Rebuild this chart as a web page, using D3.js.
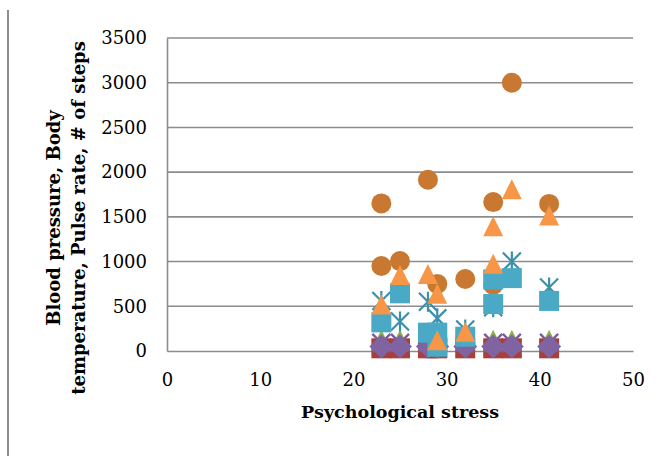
<!DOCTYPE html>
<html>
<head>
<meta charset="utf-8">
<script src="https://cdn.jsdelivr.net/npm/d3@7"></script>
<style>
  html, body { margin: 0; padding: 0; background: #fff; }
  svg { display: block; }
</style>
</head>
<body>
<svg id="chart" width="669" height="456"></svg>
<script>
// ---------- data ----------
const xTicks = [0, 10, 20, 30, 40, 50];
const yTicks = [0, 500, 1000, 1500, 2000, 2500, 3000, 3500];

// bottom cluster (x shared)
const stressBottom = [23, 25, 28, 29, 32, 35, 37, 41];
const redSquareVals   = [30, 30, 30, 30, 30, 30, 30, 30];
const greenTriVals    = [125, 125, 125, 125, 125, 125, 125, 125];
const purpleXVals     = [90, 90, 90, 90, 90, 90, 90, 90];
const diamondVals     = [50, 50, 50, 50, 50, 50, 50, 50];

const stressAsterisk  = [23, 25, 28, 29, 32, 35, 37, 41];
const asteriskVals    = [560, 330, 550, 365, 240, 490, 1000, 710];

const stressCircle    = [23, 23, 25, 28, 29, 32, 35, 35, 37, 41];
const circleVals      = [1650, 950, 1005, 1915, 750, 805, 1665, 740, 3000, 1645];

const stressSquare    = [23, 25, 28, 29, 29, 32, 35, 35, 37, 41];
const squareVals      = [320, 645, 205, 205, 48, 160, 800, 525, 815, 560];

const stressTriangle  = [23, 25, 28, 29, 29, 32, 35, 35, 37, 41];
const triangleVals    = [520, 850, 860, 640, 120, 215, 1395, 975, 1810, 1515];

const xTitle = "Psychological stress";
const yTitleLines = ["Blood pressure, Body", "temperature, Pulse rate, # of steps"];

// ---------- layout ----------
const svg = d3.select("#chart");
const x = d3.scaleLinear().domain([0, 50]).range([167, 633]);
const y = d3.scaleLinear().domain([0, 3500]).range([351, 38]);
const serif = "'DejaVu Serif', serif";

// outer left frame line
svg.append("line").attr("x1", 8).attr("x2", 8).attr("y1", 10).attr("y2", 456)
  .attr("stroke", "#8c8c8c").attr("stroke-width", 2);

// gridlines
svg.append("g").selectAll("line").data(yTicks.filter(d => d > 0)).join("line")
  .attr("x1", x(0)).attr("x2", x(50))
  .attr("y1", d => y(d)).attr("y2", d => y(d))
  .attr("stroke", "#8c8c8c").attr("stroke-width", 1.6);

// axes
const yAxis = d3.axisLeft(y).tickValues(yTicks).tickSize(0).tickPadding(20).tickFormat(d3.format("d"));
const gy = svg.append("g").attr("transform", `translate(${x(0)},0)`).call(yAxis);
gy.select(".domain").attr("stroke", "#8c8c8c").attr("stroke-width", 1.6);
gy.selectAll("text").attr("font-family", serif).attr("font-size", 18).attr("fill", "#000");

const xAxis = d3.axisBottom(x).tickValues(xTicks).tickSize(0).tickPadding(22);
const gx = svg.append("g").attr("transform", `translate(0,${y(0)})`).call(xAxis);
gx.select(".domain").attr("stroke", "#8c8c8c").attr("stroke-width", 1.6);
gx.selectAll("text").attr("font-family", serif).attr("font-size", 18).attr("fill", "#000");

// titles
svg.append("text").attr("x", 400).attr("y", 418).attr("text-anchor", "middle")
  .attr("font-family", serif).attr("font-weight", "bold").attr("font-size", 17.5)
  .text(xTitle);
const yt = svg.append("text").attr("transform", "translate(0,218) rotate(-90)")
  .attr("text-anchor", "middle").attr("font-family", serif).attr("font-weight", "bold").attr("font-size", 18);
yt.selectAll("tspan").data(yTitleLines).join("tspan")
  .attr("x", 0).attr("y", (d, i) => 60 + i * 25).text(d => d);

// ---------- markers ----------
const plot = svg.append("g");
function pts(xs, vs) { return xs.map((s, i) => ({ s, v: vs[i] })); }

// red squares
plot.append("g").selectAll("rect").data(pts(stressBottom, redSquareVals)).join("rect")
  .attr("x", d => x(d.s) - 10).attr("y", d => y(d.v) - 10).attr("width", 20).attr("height", 20)
  .attr("fill", "#a5403d");
// green triangles
plot.append("g").selectAll("path").data(pts(stressBottom, greenTriVals)).join("path")
  .attr("d", d => `M${x(d.s)},${y(d.v) - 10}L${x(d.s) + 10},${y(d.v) + 10}L${x(d.s) - 10},${y(d.v) + 10}Z`)
  .attr("fill", "#8fad4e");
// purple x
plot.append("g").selectAll("path").data(pts(stressBottom, purpleXVals)).join("path")
  .attr("d", d => { const cx = x(d.s), cy = y(d.v), h = 9; return `M${cx-h},${cy-h}L${cx+h},${cy+h}M${cx-h},${cy+h}L${cx+h},${cy-h}`; })
  .attr("stroke", "#7a5c9e").attr("stroke-width", 2.4).attr("fill", "none");
// purple diamonds
plot.append("g").selectAll("path").data(pts(stressBottom, diamondVals)).join("path")
  .attr("d", d => { const cx = x(d.s), cy = y(d.v), h = 12; return `M${cx},${cy-h}L${cx+h},${cy}L${cx},${cy+h}L${cx-h},${cy}Z`; })
  .attr("fill", "#8064a2");
// teal asterisks
plot.append("g").selectAll("path").data(pts(stressAsterisk, asteriskVals)).join("path")
  .attr("d", d => { const cx = x(d.s), cy = y(d.v), h = 9; return `M${cx-h},${cy-h}L${cx+h},${cy+h}M${cx-h},${cy+h}L${cx+h},${cy-h}M${cx},${cy-h-1}L${cx},${cy+h+1}`; })
  .attr("stroke", "#3a91ab").attr("stroke-width", 2.2).attr("fill", "none");
// orange circles
plot.append("g").selectAll("circle").data(pts(stressCircle, circleVals)).join("circle")
  .attr("cx", d => x(d.s)).attr("cy", d => y(d.v)).attr("r", 10)
  .attr("fill", "#c97832");
// teal squares
plot.append("g").selectAll("rect").data(pts(stressSquare, squareVals)).join("rect")
  .attr("x", d => x(d.s) - 10).attr("y", d => y(d.v) - 10).attr("width", 20).attr("height", 20)
  .attr("fill", "#4aaac5");
// orange triangles
plot.append("g").selectAll("path").data(pts(stressTriangle, triangleVals)).join("path")
  .attr("d", d => `M${x(d.s)},${y(d.v) - 10}L${x(d.s) + 10},${y(d.v) + 10}L${x(d.s) - 10},${y(d.v) + 10}Z`)
  .attr("fill", "#f79646");
</script>
</body>
</html>
